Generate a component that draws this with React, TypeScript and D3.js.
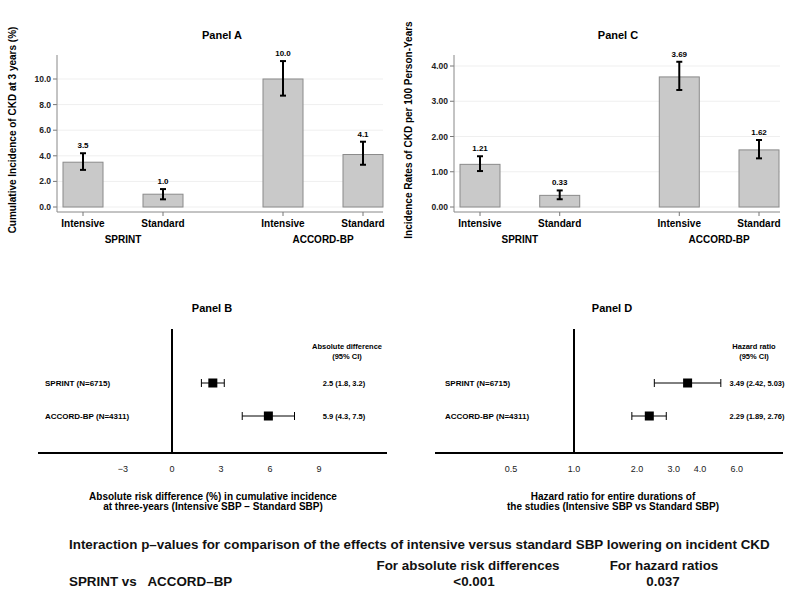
import React from "react";
import * as d3 from "d3";

const categories = ["Intensive", "Standard", "Intensive", "Standard"];
const slots = [0, 1, 2.5, 3.5];
const groups = ["SPRINT", "ACCORD-BP"];
const groupSlots = [0.5, 3];

const panelAValues = [3.5, 1.0, 10.0, 4.1];
const panelALower = [2.9, 0.6, 8.7, 3.3];
const panelAUpper = [4.2, 1.4, 11.4, 5.1];
const panelALabels = ["3.5", "1.0", "10.0", "4.1"];
const panelATicks = [0, 2, 4, 6, 8, 10];

const panelCValues = [1.21, 0.33, 3.69, 1.62];
const panelCLower = [1.02, 0.22, 3.32, 1.38];
const panelCUpper = [1.44, 0.47, 4.12, 1.9];
const panelCLabels = ["1.21", "0.33", "3.69", "1.62"];
const panelCTicks = [0, 1, 2, 3, 4];

const studies = ["SPRINT (N=6715)", "ACCORD-BP (N=4311)"];
const riskDiff = [2.5, 5.9];
const riskLow = [1.8, 4.3];
const riskHigh = [3.2, 7.5];
const riskText = ["2.5 (1.8, 3.2)", "5.9 (4.3, 7.5)"];
const riskTicks = [-3, 0, 3, 6, 9];

const hazard = [3.49, 2.29];
const hazardLow = [2.42, 1.89];
const hazardHigh = [5.03, 2.76];
const hazardText = ["3.49 (2.42, 5.03)", "2.29 (1.89, 2.76)"];
const hazardTicks = [0.5, 1, 2, 3, 4, 6];

const FONT = "'Liberation Sans', Arial, Helvetica, sans-serif";

type BarProps = {
  ox: number;
  title: string;
  yTitle: string;
  values: number[];
  lower: number[];
  upper: number[];
  labels: string[];
  ticks: number[];
  yMax: number;
  fmt: (v: number) => string;
  xRange: [number, number];
  axisX: number;
};

function BarPanel(p: BarProps) {
  const y = d3.scaleLinear().domain([0, p.yMax]).range([207, p.yMax === 10 ? 79 : 66]);
  const x = d3.scaleLinear().domain([0, 3.5]).range(p.xRange);
  const bw = 40;
  const right = p.axisX + 326;
  return (
    <g>
      <text x={p.ox + 222} y={39} textAnchor="middle" fontSize={11} fontWeight="bold">{p.title}</text>
      {p.ticks.map((t) => (
        <g key={t}>
          <line x1={p.axisX} x2={right} y1={y(t)} y2={y(t)} stroke="#efefef" />
          <line x1={p.axisX - 4} x2={p.axisX} y1={y(t)} y2={y(t)} stroke="#777" />
          <text x={p.axisX - 6} y={y(t) + 3} textAnchor="end" fontSize={8.5} fontWeight="bold" fill="#222">{p.fmt(t)}</text>
        </g>
      ))}
      <line x1={p.axisX} x2={p.axisX} y1={55} y2={212} stroke="#888" />
      <line x1={p.axisX} x2={right} y1={212} y2={212} stroke="#888" />
      {p.values.map((v, i) => (
        <g key={i}>
          <rect x={x(slots[i]) - bw / 2} y={y(v)} width={bw} height={y(0) - y(v)} fill="#c9c9c9" stroke="#8a8a8a" strokeWidth={1} />
          <line x1={x(slots[i])} x2={x(slots[i])} y1={y(p.lower[i])} y2={y(p.upper[i])} stroke="#000" strokeWidth={2} />
          <line x1={x(slots[i]) - 3} x2={x(slots[i]) + 3} y1={y(p.lower[i])} y2={y(p.lower[i])} stroke="#000" strokeWidth={2} />
          <line x1={x(slots[i]) - 3} x2={x(slots[i]) + 3} y1={y(p.upper[i])} y2={y(p.upper[i])} stroke="#000" strokeWidth={2} />
          <text x={x(slots[i])} y={y(p.upper[i]) - 5} textAnchor="middle" fontSize={8} fontWeight="bold">{p.labels[i]}</text>
          <line x1={x(slots[i])} x2={x(slots[i])} y1={212} y2={216} stroke="#777" />
          <text x={x(slots[i])} y={227} textAnchor="middle" fontSize={10} fontWeight="bold">{categories[i]}</text>
        </g>
      ))}
      {groups.map((g, i) => (
        <text key={g} x={x(groupSlots[i])} y={243} textAnchor="middle" fontSize={10} fontWeight="bold">{g}</text>
      ))}
      <text transform={`translate(${p.ox + 16},${130}) rotate(-90)`} textAnchor="middle" fontSize={10} fontWeight="bold">{p.yTitle}</text>
    </g>
  );
}

type ForestProps = {
  ox: number;
  title: string;
  x: (v: number) => number;
  zero: number;
  est: number[];
  lo: number[];
  hi: number[];
  txt: string[];
  ticks: number[];
  tickFmt: (v: number) => string;
  header: string[];
  headerX: number;
  valX: number;
  axis: [number, number];
  xTitle: string[];
};

function ForestPanel(p: ForestProps) {
  const rows = [383, 416];
  const zx = p.x(p.zero);
  return (
    <g>
      <text x={p.ox + 212} y={312} textAnchor="middle" fontSize={11} fontWeight="bold">{p.title}</text>
      <line x1={zx} x2={zx} y1={329} y2={453} stroke="#000" strokeWidth={2} />
      <line x1={p.axis[0]} x2={p.axis[1]} y1={453} y2={453} stroke="#000" strokeWidth={2} />
      {p.ticks.map((t) => (
        <text key={t} x={p.x(t)} y={472} textAnchor="middle" fontSize={9} fill="#222">{p.tickFmt(t)}</text>
      ))}
      {p.header.map((h, i) => (
        <text key={h} x={p.headerX} y={349 + i * 10} textAnchor="middle" fontSize={7.5} fontWeight="bold">{h}</text>
      ))}
      {p.est.map((e, i) => (
        <g key={i}>
          <text x={p.ox + 45} y={rows[i] + 3} fontSize={8} fontWeight="bold">{studies[i]}</text>
          <line x1={p.x(p.lo[i])} x2={p.x(p.hi[i])} y1={rows[i]} y2={rows[i]} stroke="#000" strokeWidth={1} />
          <line x1={p.x(p.lo[i])} x2={p.x(p.lo[i])} y1={rows[i] - 4} y2={rows[i] + 4} stroke="#000" strokeWidth={1} />
          <line x1={p.x(p.hi[i])} x2={p.x(p.hi[i])} y1={rows[i] - 4} y2={rows[i] + 4} stroke="#000" strokeWidth={1} />
          <rect x={p.x(e) - 4.5} y={rows[i] - 4.5} width={9} height={9} fill="#000" />
          <text x={p.valX} y={rows[i] + 3} textAnchor="middle" fontSize={7.5} fontWeight="bold">{p.txt[i]}</text>
        </g>
      ))}
      {p.xTitle.map((t, i) => (
        <text key={i} x={p.ox + 213} y={500 + i * 10} textAnchor="middle" fontSize={10} fontWeight="bold">{t}</text>
      ))}
    </g>
  );
}

export default function App() {
  const xB = d3.scaleLinear().domain([0, 3]).range([172, 221]);
  const xD = d3.scaleLog().domain([1, 2]).range([574, 637]);
  const fs = 13.4;
  return (
    <svg width={800} height={600} style={{ position: "absolute", left: 0, top: 0, background: "#fff" }} fontFamily={FONT}>
      <rect width={800} height={600} fill="#fff" />
      <BarPanel ox={0} title="Panel A" yTitle="Cumulative Incidence of CKD at 3 years (%)" values={panelAValues} lower={panelALower} upper={panelAUpper} labels={panelALabels} ticks={panelATicks} yMax={10} fmt={(v) => v.toFixed(1)} xRange={[83, 363]} axisX={57} />
      <BarPanel ox={396} title="Panel C" yTitle="Incidence Rates of CKD per 100 Person-Years" values={panelCValues} lower={panelCLower} upper={panelCUpper} labels={panelCLabels} ticks={panelCTicks} yMax={4} fmt={(v) => v.toFixed(2)} xRange={[480, 759]} axisX={454} />
      <ForestPanel ox={0} title="Panel B" x={xB} zero={0} est={riskDiff} lo={riskLow} hi={riskHigh} txt={riskText} ticks={riskTicks} tickFmt={(v) => (v < 0 ? "\u2212" + Math.abs(v) : String(v))} header={["Absolute difference", "(95% CI)"]} headerX={347} valX={344} axis={[38, 387]} xTitle={["Absolute risk difference (%) in cumulative incidence", "at three-years (Intensive SBP \u2212 Standard SBP)"]} />
      <ForestPanel ox={400} title="Panel D" x={xD} zero={1} est={hazard} lo={hazardLow} hi={hazardHigh} txt={hazardText} ticks={hazardTicks} tickFmt={(v) => v.toFixed(1)} header={["Hazard ratio", "(95% CI)"]} headerX={754} valX={757} axis={[435, 783]} xTitle={["Hazard ratio for entire durations of", "the studies (Intensive SBP vs Standard SBP)"]} />
      <text x={69} y={549} fontSize={fs} fontWeight="bold" fill="#111">Interaction p{"\u2013"}values for comparison of the effects of intensive versus standard SBP lowering on incident CKD</text>
      <text x={69} y={586} fontSize={fs} fontWeight="bold" fill="#111">SPRINT vs{"\u00a0\u00a0"} ACCORD{"\u2013"}BP</text>
      <text x={468} y={570} textAnchor="middle" fontSize={fs} fontWeight="bold" fill="#111">For absolute risk differences</text>
      <text x={474} y={586} textAnchor="middle" fontSize={fs} fontWeight="bold" fill="#111">{"<0.001"}</text>
      <text x={664} y={570} textAnchor="middle" fontSize={fs} fontWeight="bold" fill="#111">For hazard ratios</text>
      <text x={663} y={586} textAnchor="middle" fontSize={fs} fontWeight="bold" fill="#111">0.037</text>
    </svg>
  );
}
